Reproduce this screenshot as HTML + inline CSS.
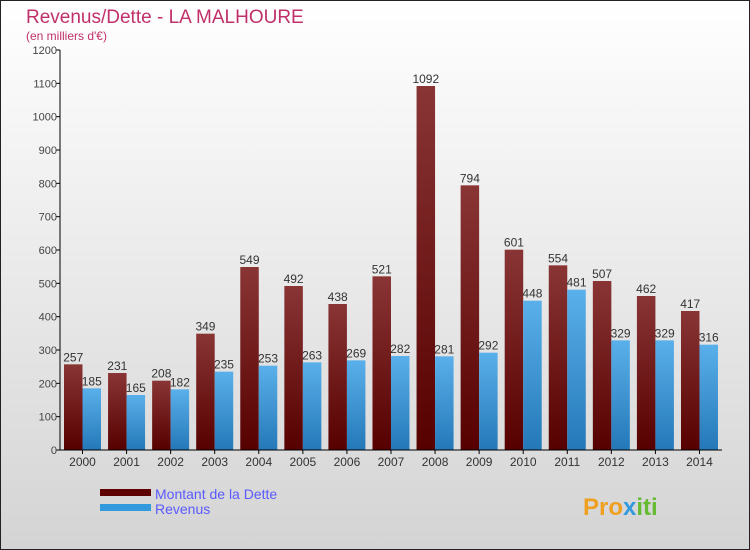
<!DOCTYPE html>
<html><head><meta charset="utf-8"><style>
body{margin:0}
svg{display:block;font-family:"Liberation Sans",sans-serif}
</style></head><body>
<svg id="c" width="750" height="550">
<defs>
<linearGradient id="bg" x1="0" y1="0" x2="0" y2="1"><stop offset="0" stop-color="#ffffff"/><stop offset="1" stop-color="#d4d4d4"/></linearGradient>
<linearGradient id="gd" x1="0" y1="0" x2="0" y2="1"><stop offset="0" stop-color="#8a3535"/><stop offset="1" stop-color="#560000"/></linearGradient>
<linearGradient id="gr" x1="0" y1="0" x2="0" y2="1"><stop offset="0" stop-color="#5ab0ea"/><stop offset="1" stop-color="#2478b8"/></linearGradient>
</defs>
<rect x="0.5" y="0.5" width="749" height="549" fill="url(#bg)" stroke="#222"/>
<text x="26" y="23" font-size="19" fill="#c0306a">Revenus/Dette - LA MALHOURE</text>
<text x="26" y="40" font-size="12" fill="#c0306a">(en milliers d'€)</text>
<g id="plot"></g>
<rect x="100" y="489" width="51" height="7" fill="#5e0000"/>
<text x="155" y="499" font-size="14" fill="#5a5aff">Montant de la Dette</text>
<rect x="100" y="504" width="51" height="7" fill="#3399dd"/>
<text x="155" y="514" font-size="14" fill="#5a5aff">Revenus</text>
<text x="583" y="515" font-size="24" font-weight="bold" fill="#f0a020">Pro<tspan fill="#3399dd">x</tspan><tspan fill="#66bb33">iti</tspan></text>
</svg>
<script>
const years=["2000","2001","2002","2003","2004","2005","2006","2007","2008","2009","2010","2011","2012","2013","2014"];
const dette=[257,231,208,349,549,492,438,521,1092,794,601,554,507,462,417];
const revenus=[185,165,182,235,253,263,269,282,281,292,448,481,329,329,316];
const yTicks=[0,100,200,300,400,500,600,700,800,900,1000,1100,1200];
const NS="http://www.w3.org/2000/svg";
const g=document.getElementById('plot');
const y0=450,yTop=50,yMax=1200,x0=60,step=44.07,bw=18.5;
const Y=v=>y0-(v/yMax)*(y0-yTop);
const X=i=>64+i*step;
function mk(t,a){const e=document.createElementNS(NS,t);for(const k in a)e.setAttribute(k,a[k]);g.appendChild(e);return e;}
yTicks.forEach(t=>{
  const l=mk('line',{x1:x0-4,x2:x0,y1:Y(t),y2:Y(t),stroke:'#000'});
  
  
  const tx=mk('text',{x:x0-3,y:Y(t)+4,'font-size':11,'text-anchor':'end',fill:'#444'});
  tx.textContent=t;
  
  
});
years.forEach((yr,i)=>{
  const bx=X(i);
  const d=mk('rect',{x:bx,y:Y(dette[i]),width:bw,height:y0-Y(dette[i]),fill:'url(#gd)'});
  
  
  const r=mk('rect',{x:bx+bw,y:Y(revenus[i]),width:bw,height:y0-Y(revenus[i]),fill:'url(#gr)'});
  
  
  const dl=mk('text',{x:bx+bw/2,y:Y(dette[i])-3,'font-size':12,'text-anchor':'middle',fill:'#333'});
  dl.textContent=dette[i];
  
  
  const rl=mk('text',{x:bx+bw*1.5,y:Y(revenus[i])-3,'font-size':12,'text-anchor':'middle',fill:'#333'});
  rl.textContent=revenus[i];
  
  
  const tk=mk('line',{x1:bx+bw,x2:bx+bw,y1:y0,y2:y0+4,stroke:'#000'});
  
  
  const xl=mk('text',{x:bx+bw,y:y0+16,'font-size':12,'text-anchor':'middle',fill:'#333'});
  xl.textContent=yr;
  
  
});
const ya=mk('line',{x1:x0,x2:x0,y1:yTop,y2:y0,stroke:'#000'});


const xa=mk('line',{x1:x0,x2:722,y1:y0,y2:y0,stroke:'#000'});


</script>
</body></html>
